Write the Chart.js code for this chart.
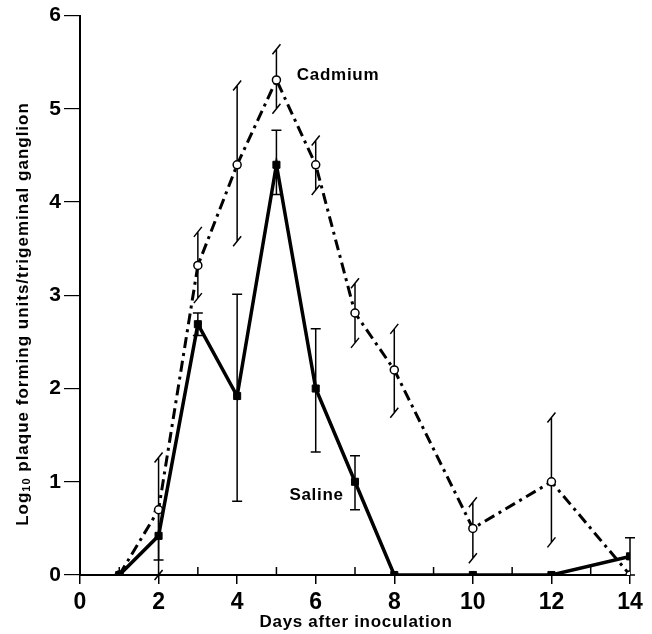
<!DOCTYPE html>
<html>
<head>
<meta charset="utf-8">
<script src="https://cdn.jsdelivr.net/npm/chart.js@4/dist/chart.umd.min.js"></script>
<style>
  body { margin: 0; background: #fff; }
  canvas { display: block; }
</style>
</head>
<body>
<canvas id="chart" width="652" height="634"></canvas>
<script>
// days after inoculation
const days = [1, 2, 3, 4, 5, 6, 7, 8, 10, 12, 14];

// log10 PFU per trigeminal ganglion
const cadmium = [0, 0.7, 3.32, 4.4, 5.31, 4.4, 2.81, 2.2, 0.5, 1.0, 0];
const cadmiumErrUp = [0, 0.56, 0.36, 0.85, 0.33, 0.26, 0.32, 0.44, 0.28, 0.69, 0];
const cadmiumErrDown = [0, 0.7, 0.35, 0.82, 0.31, 0.27, 0.32, 0.46, 0.32, 0.65, 0];

const saline = [0, 0.42, 2.69, 1.92, 4.4, 2.0, 1.0, 0, 0, 0, 0.2];
const salineErrUp = [0, 0.26, 0.12, 1.09, 0.37, 0.64, 0.28, 0, 0, 0, 0.2];
const salineErrDown = [0, 0.26, 0.12, 1.13, 0.32, 0.68, 0.3, 0, 0, 0, 0.2];

const xTicks = [0, 2, 4, 6, 8, 10, 12, 14];
const xMinorTicks = [1, 3, 5, 7, 9, 11, 13];
const yTicks = [0, 1, 2, 3, 4, 5, 6];

const FONT = '"Liberation Sans", Arial, Helvetica, sans-serif';

const errorBars = {
  id: 'errorBars',
  beforeDatasetsDraw(chart) {
    const ctx = chart.ctx;
    const xs = chart.scales.x, ys = chart.scales.y;

    // odd-day ticks point up into the plot
    ctx.save();
    ctx.strokeStyle = '#000';
    ctx.lineWidth = 1.5;
    const y0 = ys.getPixelForValue(0);
    ctx.beginPath();
    xMinorTicks.forEach((d) => {
      const x = xs.getPixelForValue(d);
      ctx.moveTo(x, y0);
      ctx.lineTo(x, y0 - 8);
    });
    ctx.stroke();
    ctx.restore();

    chart.data.datasets.forEach((ds) => {
      ctx.save();
      ctx.strokeStyle = '#000';
      ctx.lineWidth = 1.5;
      ds.data.forEach((p, i) => {
        const up = ds.errUp[i], down = ds.errDown[i];
        if (!up && !down) return;
        const x = xs.getPixelForValue(p.x);
        const yTop = ys.getPixelForValue(p.y + up);
        const yBot = ys.getPixelForValue(Math.max(0, p.y - down));
        ctx.beginPath();
        ctx.moveTo(x, yTop);
        ctx.lineTo(x, yBot);
        [yTop, yBot].forEach((yc) => {
          if (ds.slantCaps) {
            ctx.moveTo(x - 4, yc + 5);
            ctx.lineTo(x + 4, yc - 5);
          } else {
            ctx.moveTo(x - 5, yc);
            ctx.lineTo(x + 5, yc);
          }
        });
        ctx.stroke();
      });
      ctx.restore();
    });
  }
};

const labels = {
  id: 'labels',
  afterDraw(chart) {
    const ctx = chart.ctx;
    const xs = chart.scales.x, ys = chart.scales.y;
    ctx.save();
    ctx.fillStyle = '#000';
    ctx.textBaseline = 'middle';
    ctx.textAlign = 'left';
    ctx.letterSpacing = '0.7px';
    ctx.font = 'bold 17px ' + FONT;
    ctx.fillText('Cadmium', xs.getPixelForValue(5.52), ys.getPixelForValue(5.36));
    ctx.fillText('Saline', xs.getPixelForValue(5.33), ys.getPixelForValue(0.86));

    // x title
    ctx.textAlign = 'center';
    ctx.fillText('Days after inoculation', 356, 622);

    // y title with subscript
    ctx.letterSpacing = '1px';
    ctx.translate(23, 314);
    ctx.rotate(-Math.PI / 2);
    ctx.textAlign = 'left';
    const big = 'bold 17px ' + FONT, small = 'bold 11px ' + FONT;
    const a = 'Log', b = '10', c = ' plaque forming units/trigeminal ganglion';
    ctx.font = big; const wa = ctx.measureText(a).width, wc = ctx.measureText(c).width;
    ctx.font = small; const wb = ctx.measureText(b).width;
    const x0 = -(wa + wb + wc) / 2;
    ctx.font = big; ctx.fillText(a, x0, 0);
    ctx.font = small; ctx.fillText(b, x0 + wa, 4);
    ctx.font = big; ctx.fillText(c, x0 + wa + wb, 0);
    ctx.restore();
  }
};

const pts = (vals) => days.map((d, i) => ({ x: d, y: vals[i] }));

new Chart(document.getElementById('chart'), {
  type: 'line',
  data: {
    datasets: [
      {
        label: 'Saline',
        data: pts(saline),
        errUp: salineErrUp,
        errDown: salineErrDown,
        slantCaps: false,
        borderColor: '#000',
        borderWidth: 3.5,
        pointStyle: 'rect',
        pointRadius: 5,
        pointBackgroundColor: '#000',
        pointBorderColor: '#000',
        pointBorderWidth: 1,
        tension: 0
      },
      {
        label: 'Cadmium',
        data: pts(cadmium),
        errUp: cadmiumErrUp,
        errDown: cadmiumErrDown,
        slantCaps: true,
        borderColor: '#000',
        borderWidth: 3,
        borderDash: [11, 5, 3, 5],
        pointStyle: 'circle',
        pointRadius: 4,
        pointBackgroundColor: '#fff',
        pointBorderColor: '#000',
        pointBorderWidth: 1.5,
        tension: 0
      }
    ]
  },
  options: {
    responsive: false,
    animation: false,
    layout: { padding: { top: 13, right: 22, left: 0, bottom: 0 } },
    plugins: { legend: { display: false }, tooltip: { enabled: false } },
    scales: {
      x: {
        type: 'linear',
        min: 0,
        max: 14,
        afterFit: (s) => { s.height = 59; },
        ticks: {
          stepSize: 2,
          autoSkip: false,
          maxRotation: 0,
          padding: 5,
          color: '#000',
          font: { family: FONT, size: 23, weight: 'bold' },
          callback: (v) => (xTicks.includes(v) ? String(v) : '')
        },
        grid: { drawOnChartArea: false, drawTicks: true, tickLength: 9, color: '#000', lineWidth: 1.5 },
        border: { display: true, color: '#000', width: 2 }
      },
      y: {
        min: 0,
        max: 6,
        afterFit: (s) => { s.width = 80; },
        ticks: {
          stepSize: 1,
          padding: 3,
          color: '#000',
          font: { family: FONT, size: 21, weight: 'bold' },
          callback: (v) => (yTicks.includes(v) ? String(v) : '')
        },
        grid: { drawOnChartArea: false, drawTicks: true, tickLength: 16, color: '#000', lineWidth: 1.2 },
        border: { display: true, color: '#000', width: 2 }
      }
    }
  },
  plugins: [errorBars, labels]
});
</script>
</body>
</html>
